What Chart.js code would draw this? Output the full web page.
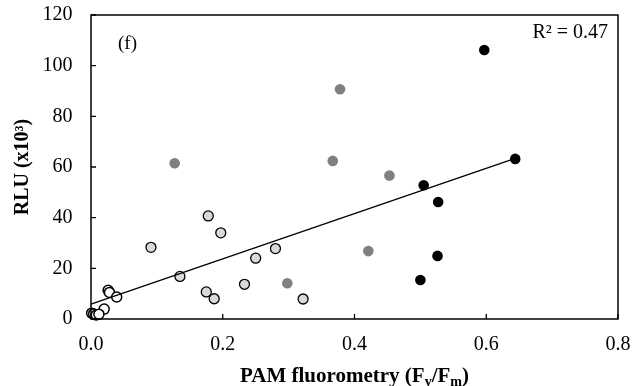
<!DOCTYPE html>
<html><head><meta charset="utf-8">
<script src="https://cdn.jsdelivr.net/npm/chart.js@4.4.0/dist/chart.umd.min.js"></script>
<style>html,body{margin:0;padding:0;background:#fff}#wrap{width:633px;height:386px}</style>
</head><body><div id="wrap"><canvas id="c" width="633" height="386"></canvas></div>
<script>
// ---- data ----
const blackX = [0.597, 0.644, 0.505, 0.527, 0.526, 0.500];
const blackY = [106.2, 63.2, 52.8, 46.2, 24.9, 15.4];
const darkX  = [0.127, 0.378, 0.367, 0.453, 0.421, 0.298];
const darkY  = [61.5, 90.7, 62.4, 56.6, 26.8, 14.1];
const lightX = [0.178, 0.197, 0.091, 0.280, 0.250, 0.135, 0.233, 0.175, 0.187, 0.322];
const lightY = [40.7, 34.0, 28.3, 27.8, 24.0, 16.8, 13.7, 10.7, 8.0, 7.9];
const openX  = [0.026, 0.028, 0.039, 0.020, 0.001, 0.004, 0.008, 0.012];
const openY  = [11.3, 10.5, 8.7, 3.9, 2.3, 2.0, 1.6, 1.9];
const trendX = [0, 0.644];
const trendY = [5.9, 63.4];
const xTicks = [0, 0.2, 0.4, 0.6, 0.8];
const yTicks = [0, 20, 40, 60, 80, 100, 120];
const xTitleParts = [["PAM fluorometry (F", false], ["v", true], ["/F", false], ["m", true], [")", false]];
const yTitle = "RLU (x10³)";
const r2Label = "R² = 0.47";
const panelLabel = "(f)";

const pts = (xs, ys) => xs.map((x, i) => ({x, y: ys[i]}));
const SERIF = "'Liberation Serif', 'Times New Roman', serif";
const noPad = s => { s.paddingTop = 0; s.paddingBottom = 0; s.paddingLeft = 0; s.paddingRight = 0; };

const framePlugin = {
  id: 'frame',
  afterDraw(chart) {
    const {ctx, chartArea: a, scales: {x, y}} = chart;
    ctx.save();
    ctx.strokeStyle = '#000';
    ctx.lineWidth = 1.5;
    ctx.strokeRect(a.left, a.top, a.right - a.left, a.bottom - a.top);
    ctx.lineWidth = 1.3;
    ctx.beginPath();
    xTicks.forEach(v => { const px = x.getPixelForValue(v); ctx.moveTo(px, a.bottom); ctx.lineTo(px, a.bottom - 5); });
    yTicks.forEach(v => { const py = y.getPixelForValue(v); ctx.moveTo(a.left, py); ctx.lineTo(a.left + 5, py); });
    ctx.stroke();
    // annotations
    ctx.fillStyle = '#000';
    ctx.font = "20px " + SERIF;
    ctx.textBaseline = 'alphabetic';
    ctx.textAlign = 'right';
    ctx.fillText(r2Label, a.right - 10, a.top + 23);
    ctx.textAlign = 'left';
    ctx.font = "19px " + SERIF;
    ctx.fillText(panelLabel, a.left + 27, a.top + 34);
    // x title with subscripts
    const big = "bold 21px " + SERIF, small = "bold 14px " + SERIF;
    let w = 0;
    xTitleParts.forEach(([t, sub]) => { ctx.font = sub ? small : big; w += ctx.measureText(t).width; });
    let cx = (a.left + a.right) / 2 - w / 2;
    const base = 381.5;
    xTitleParts.forEach(([t, sub]) => {
      ctx.font = sub ? small : big;
      ctx.fillText(t, cx, sub ? base + 4 : base);
      cx += ctx.measureText(t).width;
    });
    ctx.restore();
  }
};

new Chart(document.getElementById('c'), {
  type: 'scatter',
  data: {
    datasets: [
      { data: pts(trendX, trendY), showLine: true, borderColor: '#000', borderWidth: 1.3, pointRadius: 0, fill: false, clip: false },
      { data: pts(blackX, blackY), backgroundColor: '#000', borderWidth: 0, pointRadius: 5.3, clip: false },
      { data: pts(darkX, darkY), backgroundColor: '#808080', borderWidth: 0, pointRadius: 5.3, clip: false },
      { data: pts(lightX, lightY), backgroundColor: '#d9d9d9', borderColor: '#000', borderWidth: 1.3, pointRadius: 5, clip: false },
      { data: pts(openX, openY), backgroundColor: '#fff', borderColor: '#000', borderWidth: 1.5, pointRadius: 5, clip: false }
    ]
  },
  options: {
    responsive: false,
    animation: false,
    events: [],
    layout: { padding: { left: 0, right: 15, top: 15, bottom: 0 } },
    plugins: { legend: { display: false }, tooltip: { enabled: false } },
    scales: {
      x: {
        type: 'linear', min: 0, max: 0.8,
        afterBuildTicks: s => { s.ticks = xTicks.map(v => ({value: v})); },
        afterFit: s => { s.height = 67; noPad(s); },
        grid: { display: false, drawTicks: false },
        border: { display: false },
        ticks: { padding: 14, color: '#000', font: { family: SERIF, size: 20 }, callback: v => Number(v).toFixed(1), maxRotation: 0 }
      },
      y: {
        type: 'linear', min: 0, max: 120,
        afterBuildTicks: s => { s.ticks = yTicks.map(v => ({value: v})); },
        afterFit: s => { s.width = 91; noPad(s); },
        grid: { display: false, drawTicks: false },
        border: { display: false },
        title: { display: true, text: yTitle, color: '#000', font: { family: SERIF, size: 20, weight: 'bold', lineHeight: 1 }, padding: { top: 12.5, bottom: 0 } },
        ticks: { padding: 18.5, color: '#000', font: { family: SERIF, size: 20 } }
      }
    }
  },
  plugins: [framePlugin]
});
</script>
</body></html>
